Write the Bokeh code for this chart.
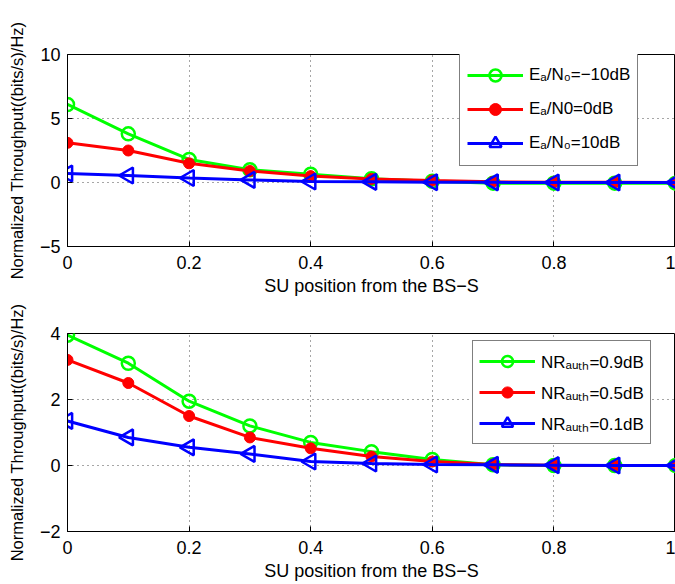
import numpy as np
from bokeh.plotting import figure
from bokeh.layouts import column
from bokeh.models import Range1d, FixedTicker, Legend, LegendItem
from bokeh.embed import file_html
from bokeh.resources import INLINE

x = [0.0, 0.1, 0.2, 0.3, 0.4, 0.5, 0.6, 0.7, 0.8, 0.9, 1.0]

# Top panel: E_a/N_0
top_green = [6.1, 3.8, 1.8, 1.0, 0.65, 0.3, 0.1, -0.05, -0.05, -0.05, -0.05]
top_red = [3.1, 2.5, 1.5, 0.9, 0.5, 0.28, 0.15, 0.05, 0.02, 0.01, 0.0]
top_blue = [0.7, 0.55, 0.35, 0.2, 0.08, 0.05, 0.02, 0.01, 0.0, 0.0, 0.0]
top_labels = ["E\u2090/N\u2080=\u221210dB", "E\u2090/N0=0dB", "E\u2090/N\u2080=10dB"]

# Bottom panel: NR_auth
bot_green = [3.95, 3.1, 1.95, 1.2, 0.7, 0.42, 0.18, 0.02, 0.0, 0.0, 0.0]
bot_red = [3.2, 2.5, 1.5, 0.85, 0.52, 0.27, 0.12, 0.03, 0.01, 0.0, 0.0]
bot_blue = [1.35, 0.85, 0.55, 0.35, 0.12, 0.06, 0.03, 0.02, 0.01, 0.0, 0.0]
bot_labels = ["NR\u2090\u1d64\u209c\u2095=0.9dB", "NR\u2090\u1d64\u209c\u2095=0.5dB", "NR\u2090\u1d64\u209c\u2095=0.1dB"]

x_ticks = [0, 0.2, 0.4, 0.6, 0.8, 1.0]
top_yticks = [-5, 0, 5, 10]
bot_yticks = [-2, 0, 2, 4]

FONT = "Liberation Sans"
GREEN = "#00ff00"
RED = "#ff0000"
BLUE = "#0000ff"


def make_panel(ys, labels, yr, yticks, height, border_top, border_bottom,
               legend_loc, glyph_h, spacing, padding):
    p = figure(width=675, height=height, output_backend="svg", toolbar_location=None,
               x_range=Range1d(0, 1), y_range=Range1d(*yr),
               min_border_left=67, min_border_right=0,
               min_border_top=border_top, min_border_bottom=border_bottom)
    p.outline_line_color = "black"
    p.outline_line_width = 1
    p.background_fill_color = "white"
    p.border_fill_color = "white"

    for ax in (p.xaxis[0], p.yaxis[0]):
        ax.axis_line_color = "black"
        ax.major_tick_in = 5
        ax.major_tick_out = 0
        ax.minor_tick_line_color = None
        ax.major_label_text_font = FONT
        ax.major_label_text_font_size = "18px"
        ax.major_label_text_color = "black"
        ax.axis_label_text_font = FONT
        ax.axis_label_text_font_size = "18px"
        ax.axis_label_text_font_style = "normal"
        ax.axis_label_text_color = "black"
    p.yaxis.axis_label_text_font_size = "16.5px"
    p.xaxis.ticker = FixedTicker(ticks=x_ticks)
    p.yaxis.ticker = FixedTicker(ticks=yticks)
    p.yaxis.major_label_overrides = {t: str(t).replace("-", "\u2212") for t in yticks}
    p.xaxis.major_label_overrides = {0: "0", 1.0: "1"}
    p.xaxis.major_label_standoff = 9
    p.yaxis.major_label_standoff = 7
    p.xaxis.axis_label = "SU position from the BS\u2212S"
    p.xaxis.axis_label_standoff = 4
    p.yaxis.axis_label = "Normalized Throughput((bits/s)/Hz)"
    p.yaxis.axis_label_standoff = 11

    for g in (p.xgrid[0], p.ygrid[0]):
        g.grid_line_color = "black"
        g.grid_line_alpha = 0.7
        g.grid_line_dash = "1 4"
        g.grid_line_width = 1
    p.xgrid.ticker = FixedTicker(ticks=x_ticks)
    p.ygrid.ticker = FixedTicker(ticks=yticks)

    g_line = p.line(x, ys[0], line_color=GREEN, line_width=3)
    g_mark = p.scatter(x, ys[0], marker="circle", size=13, line_color=GREEN,
                       line_width=2.5, fill_color=None)
    r_line = p.line(x, ys[1], line_color=RED, line_width=3)
    r_mark = p.scatter(x, ys[1], marker="circle", size=11, line_color=RED,
                       fill_color=RED, line_width=1)
    b_line = p.line(x, ys[2], line_color=BLUE, line_width=3)
    b_mark = p.scatter(x, ys[2], marker="triangle", size=16, angle=np.pi / 2,
                       line_color=BLUE, line_width=2.5, fill_color=None)

    legend = Legend(items=[
        LegendItem(label=labels[0], renderers=[g_line, g_mark]),
        LegendItem(label=labels[1], renderers=[r_line, r_mark]),
        LegendItem(label=labels[2], renderers=[b_line, b_mark]),
    ], location=legend_loc)
    legend.border_line_color = "black"
    legend.border_line_width = 1
    legend.background_fill_color = "white"
    legend.background_fill_alpha = 1
    legend.label_text_font = FONT
    legend.label_text_font_size = "17px"
    legend.label_text_color = "black"
    legend.glyph_width = 56
    legend.glyph_height = glyph_h
    legend.label_height = glyph_h
    legend.label_standoff = 6
    legend.spacing = spacing
    legend.padding = padding
    legend.margin = 0
    p.add_layout(legend, "center")
    return p


p1 = make_panel([top_green, top_red, top_blue], top_labels, (-5, 10), top_yticks,
                298, 54, 46, (392, 80), 30, 4, 7)
p2 = make_panel([bot_green, bot_red, bot_blue], bot_labels, (-2, 4), bot_yticks,
                286, 35, 53, (405, 87), 28, 3, 6)

layout = column(p1, p2, spacing=0)
open("out.html", "w").write(file_html(layout, INLINE))
